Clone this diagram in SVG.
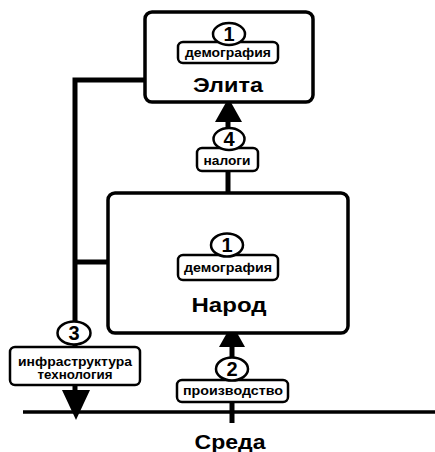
<svg xmlns="http://www.w3.org/2000/svg" width="435" height="452" viewBox="0 0 435 452">
<style>
.box{fill:#fff;stroke:#000;stroke-width:3.5}
.lbl{fill:#fff;stroke:#000;stroke-width:2.5}
.num{fill:#fff;stroke:#000;stroke-width:2.5}
.ln{fill:none;stroke:#000;stroke-width:5;stroke-linecap:butt}
.t{font-family:"Liberation Sans",Arial,sans-serif;font-weight:bold;fill:#000;text-anchor:middle}
.big{font-size:20px}
.sm{font-size:12px}
.n{font-size:20px}
</style>
<g id="connectors">
<line x1="23" y1="412" x2="435" y2="412" stroke="#000" stroke-width="3.5"/>
<path class="ln" d="M153 80 H75 V392"/>
<path class="ln" d="M75 262 H120"/>
<path d="M62 390 L90 390 L76 420 Z" fill="#000"/>
<path class="ln" d="M228 200 V118"/>
<path d="M215 122 L242 122 L228.5 98 Z" fill="#000"/>
<path class="ln" d="M232 423 V343"/>
<path d="M219 347 L245 347 L232 324 Z" fill="#000"/>
</g>
<g id="elite">
<rect class="box" x="145" y="12" width="168" height="90" rx="7"/>
<rect class="lbl" x="178" y="42" width="100" height="21" rx="5"/>
<ellipse class="num" cx="229" cy="34" rx="16" ry="11"/>
<text class="t n" x="229" y="41">1</text>
<text class="t sm" x="228" y="57" textLength="86" lengthAdjust="spacingAndGlyphs">демография</text>
<text class="t big" x="228" y="92" textLength="70" lengthAdjust="spacingAndGlyphs">Элита</text>
</g>
<g id="taxes">
<rect class="lbl" x="197" y="148" width="61" height="23" rx="5"/>
<ellipse class="num" cx="229" cy="139" rx="15.5" ry="11"/>
<text class="t n" x="229" y="146">4</text>
<text class="t sm" x="227" y="165" textLength="47" lengthAdjust="spacingAndGlyphs">налоги</text>
</g>
<g id="people">
<rect class="box" x="108" y="193" width="240" height="140" rx="7"/>
<rect class="lbl" x="178" y="255" width="100" height="25" rx="5"/>
<ellipse class="num" cx="227" cy="245" rx="16" ry="11.5"/>
<text class="t n" x="227" y="252">1</text>
<text class="t sm" x="228" y="272" textLength="88" lengthAdjust="spacingAndGlyphs">демография</text>
<text class="t big" x="229" y="312" textLength="75" lengthAdjust="spacingAndGlyphs">Народ</text>
</g>
<g id="infrastructure">
<rect class="lbl" x="10" y="347" width="130" height="38" rx="5"/>
<ellipse class="num" cx="74" cy="333" rx="16.5" ry="11.5"/>
<text class="t n" x="74" y="340">3</text>
<text class="t sm" x="75" y="366" textLength="114" lengthAdjust="spacingAndGlyphs">инфраструктура</text>
<text class="t sm" x="75" y="379" textLength="75" lengthAdjust="spacingAndGlyphs">технология</text>
</g>
<g id="production">
<rect class="lbl" x="177" y="380" width="111" height="22" rx="5"/>
<ellipse class="num" cx="232" cy="369" rx="16" ry="11.5"/>
<text class="t n" x="232" y="376">2</text>
<text class="t sm" x="233" y="395" textLength="100" lengthAdjust="spacingAndGlyphs">производство</text>
</g>
<g id="environment">
<text class="t big" x="230" y="449" textLength="71" lengthAdjust="spacingAndGlyphs">Среда</text>
</g>
</svg>
